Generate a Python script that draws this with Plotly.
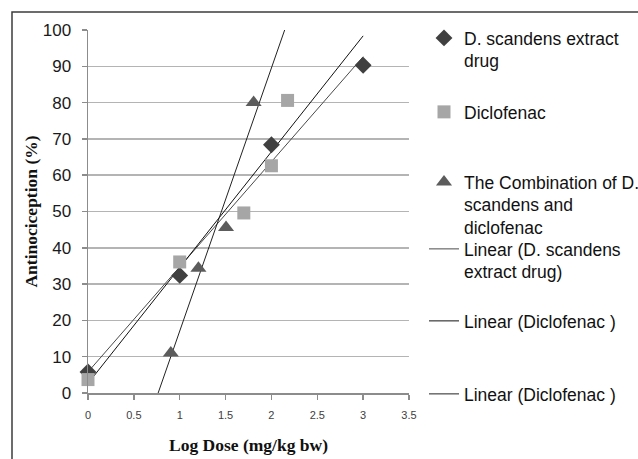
import numpy as np
import plotly.graph_objects as go

# ---- data ----
dose_scandens = [0, 1, 2, 3]
resp_scandens = [5.8, 32.4, 68.4, 90.3]

dose_diclo = [0, 1, 1.699, 2, 2.176]
resp_diclo = [3.7, 36.1, 49.6, 62.6, 80.6]

dose_combo = [0.903, 1.204, 1.505, 1.806]
resp_combo = [11.0, 34.4, 45.6, 80.0]

name_scandens = "D. scandens extract<br>drug"
name_diclo = "Diclofenac"
name_combo = "The Combination of D.<br>scandens and<br>diclofenac"
name_fit_scandens = "Linear (D. scandens<br>extract drug)"
name_fit_diclo = "Linear (Diclofenac )"
name_fit_combo = "Linear (Diclofenac )"

x_ticks = [0, 0.5, 1, 1.5, 2, 2.5, 3, 3.5]
y_ticks = [0, 10, 20, 30, 40, 50, 60, 70, 80, 90, 100]

# ---- layout geometry ----
W, H = 638, 459
ML, MR, MT, MB = 88, 229, 30, 66
PW, PH = W - ML - MR, H - MT - MB


def px_x(p):
    return (p - ML) / PW


def px_y(p):
    return (H - MB - p) / PH


def linfit(x, y, x_from, x_to):
    k, b = np.polyfit(np.asarray(x, float), np.asarray(y, float), 1)
    xs = np.array([x_from, x_to])
    return xs, k * xs + b


fig = go.Figure()

xs, ys = linfit(dose_scandens, resp_scandens, min(dose_scandens), max(dose_scandens))
fig.add_trace(go.Scatter(x=xs, y=ys, mode="lines", name=name_fit_scandens,
                         line=dict(color="#4a4a4a", width=1), legend="legend4"))
xs, ys = linfit(dose_diclo, resp_diclo, min(dose_diclo), max(dose_scandens))
fig.add_trace(go.Scatter(x=xs, y=ys, mode="lines", name=name_fit_diclo,
                         line=dict(color="#111111", width=1), legend="legend5"))
xs, ys = linfit(dose_combo, resp_combo, min(dose_diclo), max(dose_scandens))
fig.add_trace(go.Scatter(x=xs, y=ys, mode="lines", name=name_fit_combo,
                         line=dict(color="#222222", width=1), legend="legend6"))

fig.add_trace(go.Scatter(x=dose_scandens, y=resp_scandens, mode="markers", name=name_scandens,
                         marker=dict(symbol="diamond", size=13, color="#404040"),
                         cliponaxis=False, legend="legend"))
fig.add_trace(go.Scatter(x=dose_diclo, y=resp_diclo, mode="markers", name=name_diclo,
                         marker=dict(symbol="square", size=13, color="#a6a6a6"),
                         cliponaxis=False, legend="legend2"))
fig.add_trace(go.Scatter(x=dose_combo, y=resp_combo, mode="markers", name=name_combo,
                         marker=dict(symbol="triangle-up", size=14, color="#5c5c5c"),
                         cliponaxis=False, legend="legend3"))

legend_font = dict(family="Liberation Sans, Arial, sans-serif", size=17.5, color="#111111")
leg_x = px_x(424)
leg_tops = [20, 94, 164, 231, 303, 376]
legends = {}
for i, top in enumerate(leg_tops):
    key = "legend" if i == 0 else f"legend{i + 1}"
    legends[key] = dict(x=leg_x, y=px_y(top), xanchor="left", yanchor="top",
                        xref="paper", yref="paper", valign="top",
                        font=legend_font, bgcolor="rgba(0,0,0,0)", borderwidth=0,
                        itemclick=False, itemdoubleclick=False)

fig.update_layout(
    width=W, height=H,
    margin=dict(l=ML, r=MR, t=MT, b=MB, autoexpand=False),
    paper_bgcolor="white", plot_bgcolor="white",
    showlegend=True,
    **legends,
    xaxis=dict(
        range=[0, 3.5], tickvals=x_ticks, ticktext=[f"{v:g}" for v in x_ticks],
        showgrid=False, zeroline=False,
        showline=True, linecolor="#8c8c8c", linewidth=1.5,
        ticks="outside", ticklen=5, tickcolor="#8c8c8c", tickwidth=1.5,
        ticklabelstandoff=6,
        tickfont=dict(family="Liberation Sans, Arial, sans-serif", size=11, color="#404040"),
        title=dict(text="Log Dose (mg/kg bw)", standoff=19,
                   font=dict(family="Liberation Serif, Times New Roman, serif", size=17.5,
                             color="#111111", weight="bold")),
        fixedrange=True,
    ),
    yaxis=dict(
        range=[0, 100], tickvals=y_ticks,
        showgrid=True, gridcolor="#b4b4b4", gridwidth=1.5, zeroline=False,
        showline=True, linecolor="#8c8c8c", linewidth=1.5,
        ticks="outside", ticklen=5, tickcolor="#8c8c8c", tickwidth=1.5,
        ticklabelstandoff=7,
        tickfont=dict(family="Liberation Sans, Arial, sans-serif", size=17, color="#1a1a1a"),
        title=dict(text="Antinociception (%)", standoff=0,
                   font=dict(family="Liberation Serif, Times New Roman, serif", size=17.5,
                             color="#111111", weight="bold")),
        fixedrange=True,
    ),
    shapes=[dict(type="rect", xref="paper", yref="paper",
                 x0=px_x(12), x1=px_x(W + 20), y0=px_y(H + 20), y1=px_y(12),
                 line=dict(color="#3c3c3c", width=1.5), fillcolor="rgba(0,0,0,0)",
                 layer="below")],
)

fig.write_html("out.html", post_script="document.body.style.margin='0px';",
               config={"displayModeBar": False, "staticPlot": True})
